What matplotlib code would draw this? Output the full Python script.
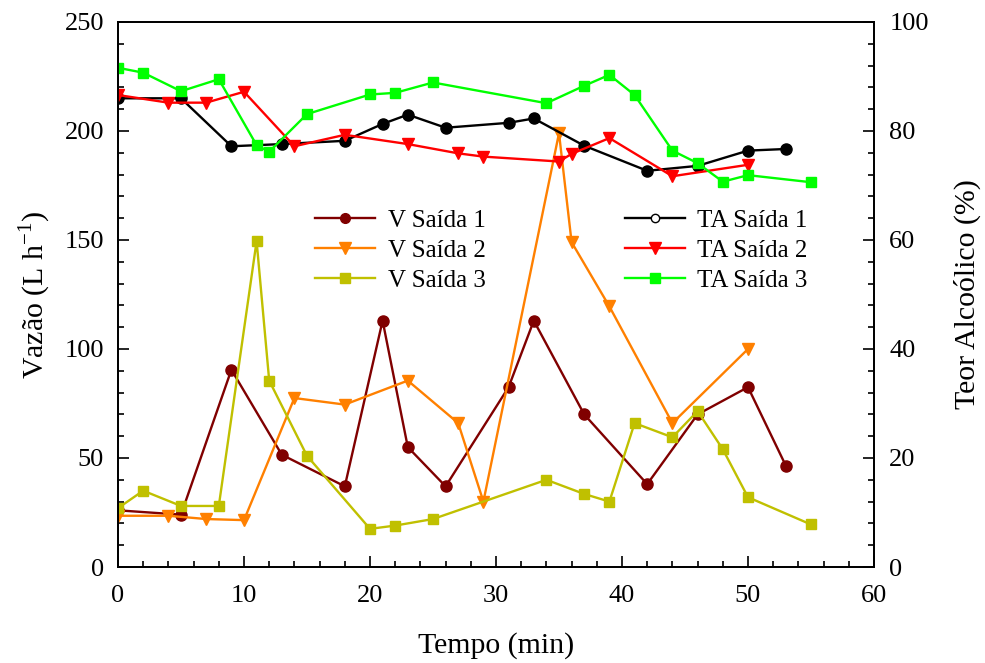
import matplotlib
matplotlib.use('Agg')
import matplotlib.pyplot as plt
from matplotlib.lines import Line2D
from matplotlib.ticker import MultipleLocator

plt.rcParams['font.family'] = ['Liberation Serif', 'DejaVu Serif']
plt.rcParams['mathtext.fontset'] = 'custom'
plt.rcParams['mathtext.rm'] = 'Liberation Serif'

# Vazao (L/h) - left axis
t_v1 = [0, 5, 9, 13, 18, 21, 23, 26, 31, 33, 37, 42, 46, 50, 53]
v1 = [26, 24, 90.5, 51.5, 37, 113, 55, 37, 82.5, 113, 70, 38, 70, 82.5, 46.5]

t_v2 = [0, 4, 7, 10, 14, 18, 23, 27, 29, 35, 36, 39, 44, 50]
v2 = [23.5, 23.5, 22, 21.5, 77.5, 74.5, 85.5, 66, 30, 199, 149, 119.5, 66, 100]

t_v3 = [0, 2, 5, 8, 11, 12, 15, 20, 22, 25, 34, 37, 39, 41, 44, 46, 48, 50, 55]
v3 = [27, 35, 28, 28, 149.5, 85.5, 51, 17.5, 19, 22, 40, 33.5, 30, 66, 59.5, 71.5, 54, 32, 19.5]

# Teor alcoolico (%) - right axis
t_ta1 = [0, 5, 9, 13, 18, 21, 23, 26, 31, 33, 37, 42, 46, 50, 53]
ta1 = [86, 86, 77.2, 77.6, 78.2, 81.3, 83, 80.6, 81.5, 82.3, 77.3, 72.7, 73.6, 76.4, 76.7]

t_ta2 = [0, 4, 7, 10, 14, 18, 23, 27, 29, 35, 36, 39, 44, 50]
ta2 = [86.6, 85.2, 85.2, 87.2, 77.2, 79.3, 77.6, 75.9, 75.3, 74.4, 75.8, 78.7, 71.7, 73.8]

t_ta3 = [0, 2, 5, 8, 11, 12, 15, 20, 22, 25, 34, 37, 39, 41, 44, 46, 48, 50, 55]
ta3 = [91.6, 90.7, 87.3, 89.5, 77.4, 76.2, 83.1, 86.7, 87, 88.9, 85.1, 88.3, 90.3, 86.6, 76.4, 74.1, 70.7, 71.9, 70.6]

fig = plt.figure(figsize=(9.85, 6.63), dpi=100)
ax = fig.add_axes([118/985, 96/663, 756/985, 545/663])
ax2 = ax.twinx()

lw = 1.7
ax.plot(t_v1, v1, color='#800000', marker='o', ms=8, lw=lw)
ax.plot(t_v2, v2, color='#FF8000', marker='v', ms=8.5, lw=lw)
ax.plot(t_v3, v3, color='#C0C000', marker='s', ms=7.5, lw=lw)

ax2.plot(t_ta1, ta1, color='black', marker='o', ms=8, lw=lw)
ax2.plot(t_ta2, ta2, color='#FF0000', marker='v', ms=8.5, lw=lw)
ax2.plot(t_ta3, ta3, color='#00FF00', marker='s', ms=7.5, lw=lw)

ax.set_xlim(0, 60)
ax.set_ylim(0, 250)
ax2.set_ylim(0, 100)

ax.xaxis.set_major_locator(MultipleLocator(10))
ax.xaxis.set_minor_locator(MultipleLocator(2))
ax.yaxis.set_major_locator(MultipleLocator(50))
ax.yaxis.set_minor_locator(MultipleLocator(10))
ax2.yaxis.set_major_locator(MultipleLocator(20))
ax2.yaxis.set_minor_locator(MultipleLocator(4))

for a in (ax, ax2):
    a.tick_params(which='both', direction='in', labelsize=19, width=1.2)
    a.tick_params(which='major', length=8)
    a.tick_params(which='minor', length=4.5)
    for s in a.spines.values():
        s.set_linewidth(1.3)
ax.tick_params(axis='x', which='both', top=False, pad=13)
ax.tick_params(axis='y', which='both', right=False, pad=10)
ax2.tick_params(axis='y', pad=11)

ax.set_xlabel('Tempo (min)', fontsize=21.5, labelpad=18)
ax.set_ylabel(r'Vazão (L h$^{\mathregular{-1}}$)', fontsize=21.5, labelpad=8)
ax2.set_ylabel('Teor Alcoólico (%)', fontsize=21.5, labelpad=18)

# legends
hv = [Line2D([], [], color='#800000', marker='o', ms=7, lw=lw),
      Line2D([], [], color='#FF8000', marker='v', ms=8, lw=lw),
      Line2D([], [], color='#C0C000', marker='s', ms=7, lw=lw)]
hta = [Line2D([], [], color='black', marker='o', ms=6, mfc='white', mec='black', lw=lw),
       Line2D([], [], color='#FF0000', marker='v', ms=8, lw=lw),
       Line2D([], [], color='#00FF00', marker='s', ms=7, lw=lw)]

leg_kw = dict(frameon=False, fontsize=18, handlelength=2.4, handletextpad=0.5,
              labelspacing=0.3, borderpad=0, borderaxespad=0, loc='center left')
leg1 = ax2.legend(hv, ['V Saída 1', 'V Saída 2', 'V Saída 3'],
                  bbox_to_anchor=(0.2606, 0.58), **leg_kw)
ax2.add_artist(leg1)
ax2.legend(hta, ['TA Saída 1', 'TA Saída 2', 'TA Saída 3'],
           bbox_to_anchor=(0.6706, 0.58), **leg_kw)

fig.savefig('out.png', dpi=100)
